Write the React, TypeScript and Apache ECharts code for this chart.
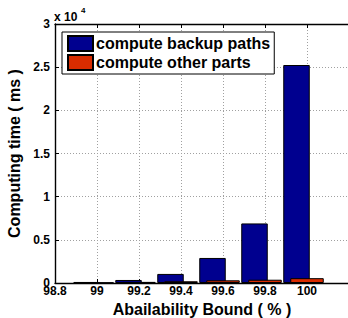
import React, { useEffect, useRef } from 'react';
import * as echarts from 'echarts';

const bounds = [99, 99.2, 99.4, 99.6, 99.8, 100];
const backupPaths = [120, 350, 1050, 2900, 6900, 25250];
const otherParts = [50, 130, 200, 310, 380, 560];
const seriesNames = ['compute backup paths', 'compute other parts'];
const xMin = 98.8;
const xMax = 100.2;
const xStep = 0.2;
const yMax = 30000;
const yStep = 5000;
const yScale = 10000;

const FONT = '"Liberation Sans", Arial, Helvetica, sans-serif';

export default function App() {
  const ref = useRef<HTMLDivElement>(null);
  useEffect(() => {
    if (!ref.current) return;
    const chart = echarts.init(ref.current, null, { renderer: 'svg' });
    const dotted = { show: true, lineStyle: { type: [1, 2], color: '#a0a0a0', width: 1 } };
    const axisLine = { show: true, onZero: false, lineStyle: { color: '#000', width: 1.4 } };
    const tick = { show: true, inside: true, length: 4, lineStyle: { color: '#000', width: 1 } };
    const labelStyle = { color: '#000', fontWeight: 'bold', fontSize: 12, fontFamily: FONT };
    chart.setOption({
      animation: false,
      backgroundColor: '#fff',
      textStyle: { fontFamily: FONT },
      grid: { left: 55, top: 24, width: 294, height: 259, containLabel: false, outerBoundsMode: 'none' },
      legend: {
        show: true,
        orient: 'vertical',
        left: 62,
        top: 32,
        data: seriesNames,
        icon: 'rect',
        itemWidth: 25,
        itemHeight: 15,
        itemGap: 2,
        padding: [3, 4, 3, 5],
        borderColor: '#000',
        borderWidth: 1,
        backgroundColor: '#fff',
        textStyle: { color: '#000', fontWeight: 'bold', fontSize: 16, fontFamily: FONT, padding: [0, 0, 0, -2] },
      },
      xAxis: [
        {
          type: 'value',
          position: 'bottom',
          min: xMin,
          max: xMax,
          interval: xStep,
          name: 'Abailability Bound ( % )',
          nameLocation: 'middle',
          nameGap: 10,
          nameTextStyle: { color: '#000', fontWeight: 'bold', fontSize: 16, fontFamily: FONT },
          axisLine,
          axisTick: tick,
          axisLabel: {
            ...labelStyle,
            margin: 2,
            formatter: (v: number) => (v > 100.1 ? '' : String(Number(v.toFixed(1)))),
          },
          splitLine: dotted,
        },
        {
          type: 'value',
          position: 'top',
          min: xMin,
          max: xMax,
          interval: xStep,
          axisLine,
          axisTick: tick,
          axisLabel: { show: false },
          splitLine: { show: false },
        },
        {
          type: 'value',
          show: false,
          min: xMin + 0.05,
          max: xMax + 0.05,
          splitLine: { show: false },
        },
      ],
      yAxis: {
        type: 'value',
        min: 0,
        max: yMax,
        interval: yStep,
        name: 'Computing time ( ms )',
        nameLocation: 'middle',
        nameGap: 32,
        nameTextStyle: { color: '#000', fontWeight: 'bold', fontSize: 16, fontFamily: FONT },
        axisLine,
        axisTick: tick,
        axisLabel: { ...labelStyle, margin: 5, formatter: (v: number) => String(v / yScale) },
        splitLine: dotted,
      },
      graphic: [
        { type: 'text', left: 54, top: 11, style: { text: 'x 10', fill: '#000', font: `bold 12px ${FONT}` } },
        { type: 'text', left: 81, top: 6, style: { text: '4', fill: '#000', font: `bold 8px ${FONT}` } },
      ],
      series: [
        {
          name: seriesNames[0],
          type: 'bar',
          xAxisIndex: 2,
          barWidth: 26.5,
          data: bounds.map((b, i) => [b, backupPaths[i]]),
          itemStyle: { color: '#00008f', borderColor: '#000', borderWidth: 1 },
        },
        {
          name: seriesNames[1],
          type: 'bar',
          xAxisIndex: 0,
          barWidth: 33.5,
          data: bounds.map((b, i) => [b, otherParts[i]]),
          itemStyle: { color: '#d92c00', borderColor: '#000', borderWidth: 1 },
        },
      ],
    });
    return () => chart.dispose();
  }, []);
  return <div ref={ref} style={{ position: 'fixed', left: 0, top: 0, width: 348, height: 318 }} />;
}
